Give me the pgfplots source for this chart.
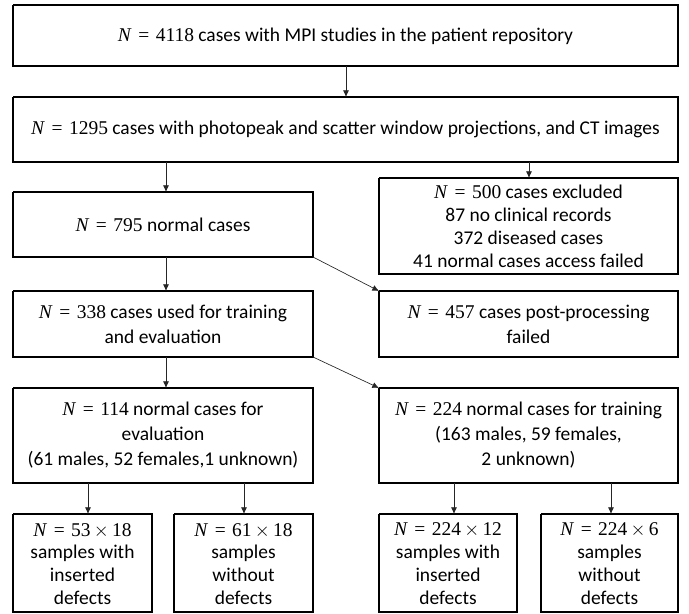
\documentclass[border=0pt]{standalone}
\usepackage{pgfplots}
\pgfplotsset{compat=1.18}
\usepackage{fontspec}
\setmainfont{Carlito}
\newfontfamily\mathf{Liberation Serif}
\usetikzlibrary{arrows.meta}
\newcommand{\NN}[1]{{\mathf\textit{N}\,\,=\,\,#1}}
\begin{document}
\begin{tikzpicture}
\begin{axis}[
  scale only axis, width=516.75pt, height=460.5pt,
  xmin=0, xmax=689, ymin=0, ymax=614, y dir=reverse,
  axis lines=none, clip=false,
  box/.style={black, solid, no marks, line width=0.9pt},
  arr/.style={black!85, solid, no marks, line width=0.5pt, -{Latex[length=5pt,width=4.5pt]}},
]
\path (rel axis cs:0,0) rectangle (rel axis cs:1,1);
% boxes
\addplot[box] coordinates {(13,5) (678,5) (678,66) (13,66) (13,5)};
\addplot[box] coordinates {(13,97) (678,97) (678,162) (13,162) (13,97)};
\addplot[box] coordinates {(13,192) (313,192) (313,257) (13,257) (13,192)};
\addplot[box] coordinates {(379,178) (678,178) (678,274) (379,274) (379,178)};
\addplot[box] coordinates {(13,291) (313,291) (313,357) (13,357) (13,291)};
\addplot[box] coordinates {(379,291) (678,291) (678,357) (379,357) (379,291)};
\addplot[box] coordinates {(13,388) (313,388) (313,483) (13,483) (13,388)};
\addplot[box] coordinates {(379,388) (678,388) (678,483) (379,483) (379,388)};
\addplot[box] coordinates {(13,514) (152,514) (152,612) (13,612) (13,514)};
\addplot[box] coordinates {(174,514) (313,514) (313,612) (174,612) (174,514)};
\addplot[box] coordinates {(379,514) (517,514) (517,612) (379,612) (379,514)};
\addplot[box] coordinates {(541,514) (678,514) (678,612) (541,612) (541,514)};
% arrows
\addplot[arr] coordinates {(346,66) (346,97)};
\addplot[arr] coordinates {(166,162) (166,192)};
\addplot[arr] coordinates {(529,162) (529,178)};
\addplot[arr] coordinates {(166,257) (166,291)};
\addplot[arr] coordinates {(313,257) (379,291)};
\addplot[arr] coordinates {(166,357) (166,388)};
\addplot[arr] coordinates {(313,357) (379,388)};
\addplot[arr] coordinates {(88,483) (88,514)};
\addplot[arr] coordinates {(244,483) (244,514)};
\addplot[arr] coordinates {(454,483) (454,514)};
\addplot[arr] coordinates {(611,483) (611,514)};
% texts
\tikzset{every node/.style={align=center, font=\fontsize{14.6}{17.2}\selectfont, inner sep=0pt},
  wide/.style={font=\fontsize{14.6}{18.8}\selectfont}}
\node at (axis cs:345.5,36) {\NN{4118} cases with MPI studies in the patient repository};
\node at (axis cs:345.5,129) {\NN{1295} cases with photopeak and scatter window projections, and CT images};
\node at (axis cs:163,225) {\NN{795} normal cases};
\node at (axis cs:528.5,226) {\NN{500} cases excluded\\87 no clinical records\\372 diseased cases\\41 normal cases access failed};
\node[wide] at (axis cs:163,324.5) {\NN{338} cases used for training\\and evaluation};
\node[wide] at (axis cs:528.5,324.5) {\NN{457} cases post-processing\\failed};
\node[wide] at (axis cs:163,435) {\NN{114} normal cases for\\evaluation\\(61 males, 52 females,1 unknown)};
\node[wide] at (axis cs:528.5,435) {\NN{224} normal cases for training\\(163 males, 59 females,\\2 unknown)};
\node at (axis cs:82.5,564) {\NN{53\,$\times$\,18}\\samples with\\inserted\\defects};
\node at (axis cs:243.5,564) {\NN{61\,$\times$\,18}\\samples\\without\\defects};
\node at (axis cs:448,564) {\NN{224\,$\times$\,12}\\samples with\\inserted\\defects};
\node at (axis cs:609.5,564) {\NN{224\,$\times$\,6}\\samples\\without\\defects};
\end{axis}
\end{tikzpicture}
\end{document}
